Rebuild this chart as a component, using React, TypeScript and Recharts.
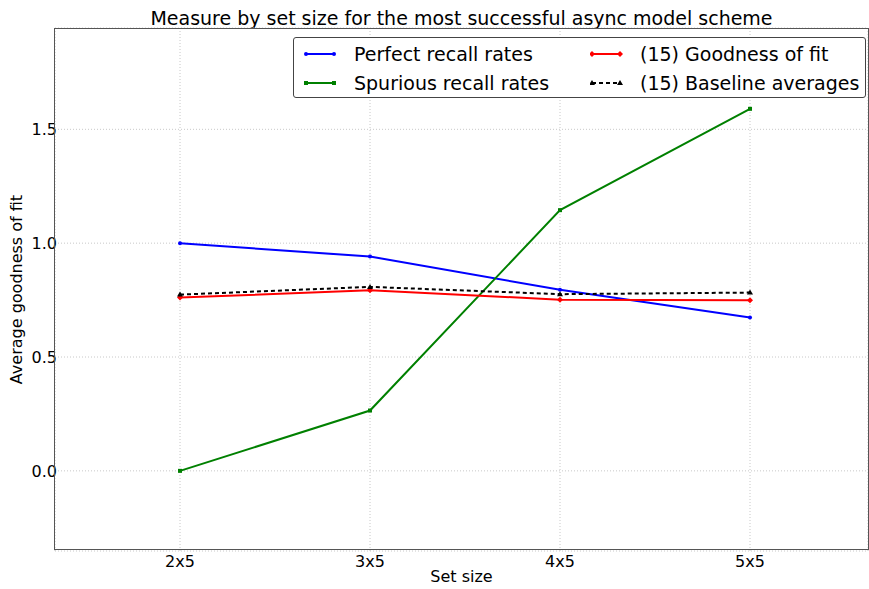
import React from 'react'
import { LineChart, Line, XAxis, YAxis, CartesianGrid } from 'recharts'

const CATEGORIES = ['2x5', '3x5', '4x5', '5x5']
const PERFECT = [1.0, 0.941, 0.795, 0.674]
const SPURIOUS = [0.0, 0.265, 1.145, 1.59]
const GOODNESS = [0.761, 0.793, 0.752, 0.749]
const BASELINE = [0.774, 0.808, 0.776, 0.783]
const Y_TICKS = [0, 0.5, 1.0, 1.5]

const FONT = '"DejaVu Sans", Verdana, sans-serif'

const data = CATEGORIES.map((c, i) => ({
  x: i,
  perfect: PERFECT[i],
  spurious: SPURIOUS[i],
  goodness: GOODNESS[i],
  baseline: BASELINE[i],
}))

type Shape = 'circle' | 'square' | 'diamond' | 'triangle'

function marker(shape: Shape, color: string, cx: number, cy: number, key?: string | number) {
  if (shape === 'circle') return <circle key={key} cx={cx} cy={cy} r={2} fill={color} />
  if (shape === 'square') return <rect key={key} x={cx - 2} y={cy - 2} width={4} height={4} fill={color} />
  if (shape === 'diamond')
    return <polygon key={key} points={`${cx},${cy - 3} ${cx + 3},${cy} ${cx},${cy + 3} ${cx - 3},${cy}`} fill={color} />
  return <polygon key={key} points={`${cx},${cy - 3} ${cx + 3},${cy + 2} ${cx - 3},${cy + 2}`} fill={color} />
}

const dotFor = (shape: Shape, color: string) => (p: any) => marker(shape, color, p.cx, p.cy, p.index)

const SERIES = [
  { key: 'perfect', name: 'Perfect recall rates', color: '#0000ff', shape: 'circle' as Shape, dash: undefined },
  { key: 'spurious', name: 'Spurious recall rates', color: '#008000', shape: 'square' as Shape, dash: undefined },
  { key: 'goodness', name: '(15) Goodness of fit', color: '#ff0000', shape: 'diamond' as Shape, dash: undefined },
  { key: 'baseline', name: '(15) Baseline averages', color: '#000000', shape: 'triangle' as Shape, dash: '4 3' },
]

function LegendItem({ s }: { s: (typeof SERIES)[number] }) {
  return (
    <div style={{ display: 'flex', alignItems: 'center', height: 28, whiteSpace: 'nowrap' }}>
      <svg width={34} height={10} style={{ marginRight: 16, flex: 'none' }}>
        <line x1={2} y1={5} x2={30} y2={5} stroke={s.color} strokeWidth={2} strokeDasharray={s.dash} />
        {marker(s.shape, s.color, 2, 5)}
        {marker(s.shape, s.color, 30, 5)}
      </svg>
      <span>{s.name}</span>
    </div>
  )
}

export default function App() {
  return (
    <div style={{ position: 'absolute', left: 0, top: 0, width: 869, height: 589, background: '#fff', fontFamily: FONT }}>
      <div style={{ position: 'absolute', left: 55, width: 813, top: 6, textAlign: 'center', fontSize: 19, lineHeight: '24px', color: '#000' }}>
        Measure by set size for the most successful async model scheme
      </div>
      <LineChart width={869} height={589} data={data} margin={{ top: 28, right: 1, bottom: 18, left: 0 }}>
        <CartesianGrid stroke="#c8c8c8" strokeDasharray="1 2" />
        <XAxis
          dataKey="x"
          type="number"
          domain={[-0.658, 3.621]}
          ticks={[0, 1, 2, 3]}
          tickFormatter={(v) => CATEGORIES[v] ?? ''}
          allowDataOverflow
          axisLine={false}
          tickLine={false}
          tickSize={0}
          height={20}
          tick={{ fontSize: 16, fill: '#000', fontFamily: FONT }}
          tickMargin={5}
          label={{ value: 'Set size', position: 'bottom', offset: 0, style: { fontSize: 16, fill: '#000', fontFamily: FONT } }}
        />
        <YAxis
          type="number"
          domain={[-0.352, 1.945]}
          ticks={Y_TICKS}
          tickFormatter={(v) => Number(v).toFixed(1)}
          allowDataOverflow
          axisLine={false}
          tickLine={false}
          tickSize={0}
          width={55}
          tick={{ fontSize: 16, fill: '#000', fontFamily: FONT, dx: 5 }}
          tickMargin={3}
          label={{
            value: 'Average goodness of fit',
            angle: -90,
            position: 'insideLeft',
            offset: 16,
            style: { fontSize: 16, fill: '#000', fontFamily: FONT, textAnchor: 'middle' },
          }}
        />
        {SERIES.map((s) => (
          <Line
            key={s.key}
            dataKey={s.key}
            name={s.name}
            stroke={s.color}
            strokeWidth={2}
            strokeDasharray={s.dash}
            dot={dotFor(s.shape, s.color)}
            activeDot={false}
            isAnimationActive={false}
          />
        ))}
      </LineChart>
      <div
        style={{
          position: 'absolute',
          left: 54,
          top: 28,
          width: 815,
          height: 522,
          border: '1px solid #555',
          boxSizing: 'border-box',
          pointerEvents: 'none',
        }}
      />
      <div
        style={{
          position: 'absolute',
          left: 293,
          top: 37,
          width: 573,
          height: 61,
          border: '1px solid #444',
          borderRadius: 3,
          background: '#fff',
          fontSize: 19,
          color: '#000',
          display: 'grid',
          gridTemplateColumns: '286px 1fr',
          padding: '2px 0 0 10px',
          boxSizing: 'border-box',
        }}
      >
        <LegendItem s={SERIES[0]} />
        <LegendItem s={SERIES[2]} />
        <LegendItem s={SERIES[1]} />
        <LegendItem s={SERIES[3]} />
      </div>
    </div>
  )
}
